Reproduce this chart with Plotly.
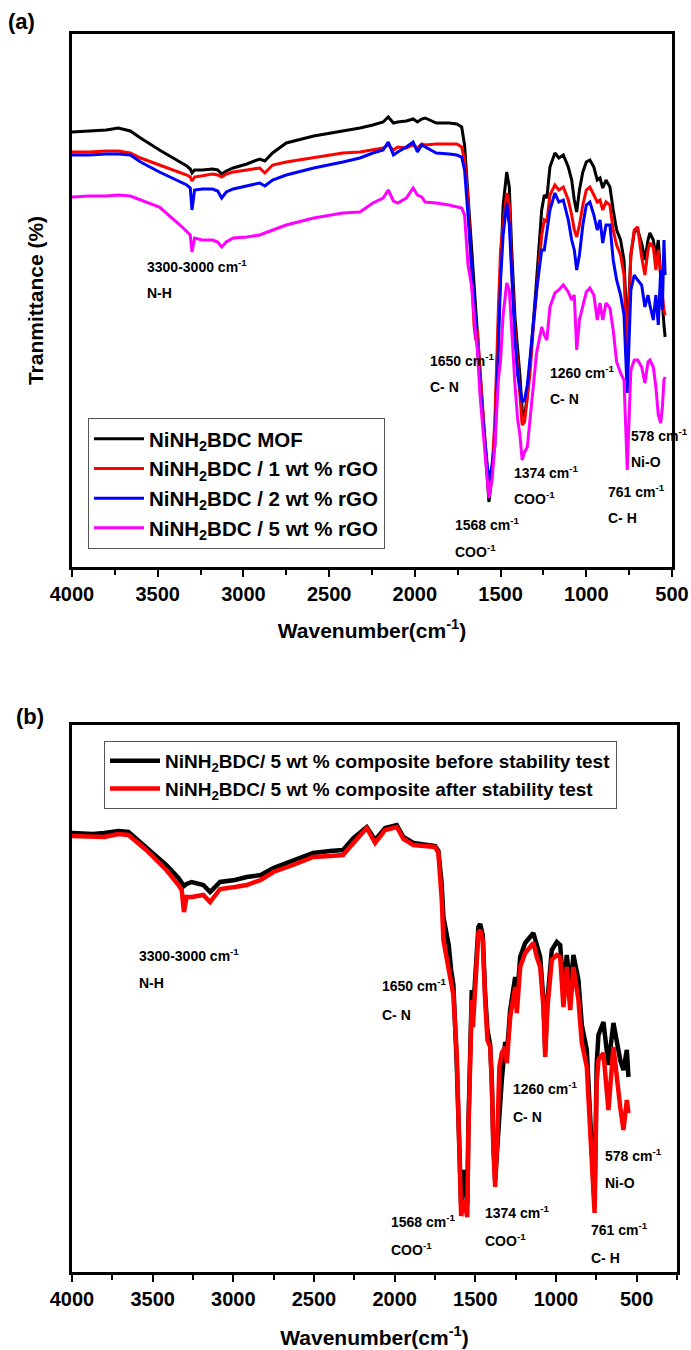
import plotly.graph_objects as go

# ---------------- Panel (a) data ----------------
wn_a = [4000, 3900, 3800, 3730, 3660, 3600, 3490, 3370, 3330, 3310,
        3300, 3285, 3240, 3180, 3150, 3127, 3100, 3060, 2980, 2905,
        2875, 2830, 2750, 2590, 2420, 2320, 2245, 2185, 2155, 2125,
        2100, 2050, 2010, 1985, 1960, 1940, 1875, 1800, 1755, 1727,
        1710, 1690, 1670, 1655, 1645, 1635, 1620, 1600, 1585, 1568,
        1550, 1533, 1513, 1500, 1485, 1464, 1449, 1435, 1416, 1400,
        1387, 1374, 1360, 1344, 1329, 1310, 1290, 1275, 1260, 1245,
        1230, 1212, 1183, 1160, 1134, 1105, 1085, 1070, 1056, 1040,
        1020, 1000, 979, 956, 936, 920, 904, 885, 862, 843,
        823, 800, 780, 761, 740, 720, 700, 677, 658, 640,
        629, 609, 594, 580, 566, 556, 547, 540]

mof = [46.8, 46.9, 47.0, 47.2, 46.9, 46.2, 45.0, 43.8, 43.4, 43.1,
       42.7, 43.0, 43.0, 43.1, 43.0, 42.6, 42.9, 43.2, 43.6, 44.1,
       43.9, 44.7, 45.7, 46.4, 46.9, 47.2, 47.5, 47.8, 48.3, 47.7,
       47.8, 47.9, 48.1, 47.8, 48.1, 48.2, 47.7, 47.7, 47.6, 47.3,
       45.5, 40.5, 35.5, 31.5, 29.0, 26.6, 23.0, 18.2, 14.5, 9.8,
       12.5, 17.0, 27.0, 33.0, 39.5, 42.8, 41.3, 35.0, 28.3, 25.0,
       22.5, 19.0, 18.3, 20.5, 23.3, 27.5, 32.0, 35.5, 39.0, 40.5,
       40.2, 43.3, 44.7, 44.2, 44.5, 43.3, 42.0, 40.0, 38.8, 41.0,
       42.8, 43.8, 44.0, 43.3, 42.0, 42.2, 41.2, 42.0, 41.3, 39.0,
       37.0, 36.0, 34.0, 26.5, 34.5, 36.8, 37.0, 35.7, 34.0, 36.0,
       36.7, 36.0, 34.3, 36.0, 32.0, 30.0, 27.5, 26.3]

rgo1 = [44.8, 44.8, 44.9, 44.9, 44.7, 44.2, 43.5, 42.8, 42.5, 42.3,
        41.9, 42.3, 42.4, 42.6, 42.5, 42.3, 42.6, 42.8, 43.0, 43.2,
        42.7, 43.5, 43.8, 44.2, 44.7, 44.8, 45.0, 45.2, 45.5, 45.0,
        45.3, 45.2, 45.5, 45.2, 45.6, 45.5, 45.6, 45.6, 45.6, 45.3,
        44.0, 40.0, 33.5, 27.5, 26.0, 27.0, 23.0, 18.5, 14.5, 10.5,
        13.0, 18.0, 29.0, 35.0, 37.5, 40.7, 39.5, 33.0, 27.0, 23.0,
        20.0, 17.5, 17.8, 20.0, 22.5, 27.0, 31.0, 33.5, 36.5, 38.0,
        37.8, 40.5, 41.5, 41.0, 41.3, 40.0, 38.5, 37.0, 36.3, 37.5,
        39.5, 41.0, 41.3, 40.5, 39.8, 40.0, 39.0, 39.8, 39.5, 37.0,
        35.5, 34.5, 32.5, 24.5, 34.5, 37.0, 37.3, 34.3, 32.5, 35.0,
        35.7, 35.3, 33.0, 35.0, 32.0, 30.5, 29.0, 28.5]

rgo2 = [44.5, 44.5, 44.6, 44.6, 44.5, 43.8, 42.8, 41.8, 41.5, 41.2,
        39.0, 41.0, 41.1, 41.1, 40.9, 40.2, 40.8, 41.1, 41.4, 41.7,
        41.4, 42.0, 42.5, 43.2, 43.8, 44.2, 44.7, 45.0, 45.8, 44.5,
        44.8, 45.3, 45.8, 44.8, 45.5, 45.3, 44.7, 44.6, 44.5, 44.3,
        43.0, 38.5, 33.5, 29.5, 27.5, 25.5, 21.7, 17.5, 14.5, 11.8,
        13.5, 15.5, 25.0, 32.0, 36.5, 39.7, 37.5, 32.0, 26.0, 22.5,
        21.0, 19.8, 20.0, 21.5, 24.0, 27.5, 31.0, 33.0, 35.0, 35.0,
        37.0, 39.0, 40.7, 39.8, 40.0, 38.0, 36.0, 35.0, 33.0, 34.5,
        37.5, 39.5, 39.8, 38.5, 37.0, 38.0, 35.7, 37.5, 37.5, 34.0,
        32.0, 30.5, 28.5, 20.7, 31.0, 32.5, 32.0, 31.5, 29.3, 30.5,
        29.5, 28.0, 30.5, 27.5, 33.0, 29.0, 36.0, 32.5]

rgo5 = [40.3, 40.4, 40.4, 40.5, 40.4, 40.0, 39.3, 37.5, 36.8, 36.5,
        34.8, 36.2, 36.0, 36.0, 35.8, 35.3, 35.8, 36.2, 36.3, 36.5,
        36.7, 37.0, 37.5, 38.2, 38.7, 38.8, 39.7, 40.2, 41.0, 39.9,
        39.7, 40.2, 41.2, 40.5, 40.3, 39.8, 39.7, 39.5, 39.3, 39.2,
        38.5, 33.5, 31.5, 28.3, 26.5, 25.0, 20.5, 16.5, 13.5, 10.2,
        12.0, 15.5, 22.0, 24.0, 28.5, 31.7, 31.0, 26.7, 21.5, 18.0,
        16.5, 14.0, 14.8, 15.3, 18.0, 21.0, 24.7, 26.0, 27.3, 26.5,
        26.0, 29.3, 30.7, 31.0, 31.5, 30.8, 30.0, 30.5, 25.0, 28.0,
        29.5, 30.8, 31.2, 30.5, 28.0, 29.7, 28.0, 29.7, 29.2, 27.0,
        23.8, 22.7, 22.0, 13.0, 23.0, 24.0, 24.0, 23.3, 21.7, 23.8,
        24.0, 23.3, 21.3, 18.5, 17.7, 19.3, 22.0, 22.3]

names_a = ["NiNH<sub>2</sub>BDC MOF",
           "NiNH<sub>2</sub>BDC / 1 wt % rGO",
           "NiNH<sub>2</sub>BDC / 2 wt % rGO",
           "NiNH<sub>2</sub>BDC / 5 wt % rGO"]
colors_a = ["#000000", "#FF0000", "#0000FF", "#FF00FF"]

# ---------------- Panel (b) data ----------------
wn_b = [4000, 3870, 3800, 3713, 3650, 3540, 3415, 3340, 3320, 3306,
        3290, 3258, 3186, 3144, 3082, 2990, 2917, 2830, 2752, 2630,
        2505, 2400, 2320, 2256, 2173, 2121, 2059, 1987, 1946, 1884,
        1801, 1749, 1729, 1708, 1698, 1681, 1665, 1650, 1636, 1615,
        1599, 1588, 1570, 1550, 1543, 1532, 1522, 1515, 1495, 1481,
        1470, 1454, 1439, 1425, 1408, 1398, 1388, 1377, 1363, 1351,
        1336, 1315, 1305, 1284, 1253, 1243, 1222, 1191, 1160, 1140,
        1119, 1098, 1078, 1067, 1053, 1026, 995, 974, 954, 933,
        912, 892, 861, 840, 809, 788, 761, 748, 737, 706,
        675, 644, 623, 602, 582, 561, 551]

before = [46.7, 46.6, 46.7, 46.9, 46.8, 45.3, 43.5, 42.2, 41.8, 41.4,
          41.6, 41.8, 41.5, 40.8, 41.8, 42.0, 42.3, 42.5, 43.2, 44.0,
          44.7, 44.9, 45.0, 46.2, 47.3, 46.0, 47.2, 47.5, 46.3, 45.7,
          45.5, 45.4, 44.9, 41.5, 38.3, 37.0, 35.5, 33.0, 31.5, 23.5,
          16.7, 9.5, 13.0, 9.5, 17.5, 27.5, 31.0, 28.5, 34.5, 37.3,
          37.6, 36.5, 30.5, 27.0, 25.5, 22.0, 15.5, 12.0, 15.5, 19.0,
          22.0, 25.8, 24.5, 29.0, 32.3, 29.7, 34.3, 35.7, 36.3, 36.7,
          35.5, 34.3, 30.0, 25.0, 30.0, 35.0, 35.8, 35.5, 31.0, 34.5,
          31.0, 34.5, 32.0, 27.5, 25.0, 18.0, 9.5, 23.5, 26.5, 27.8,
          23.5, 27.7, 25.5, 24.0, 23.0, 25.0, 22.3]

after = [46.4, 46.3, 46.3, 46.6, 46.5, 45.0, 43.0, 41.5, 41.0, 38.8,
         40.3, 40.3, 40.5, 39.8, 41.1, 41.3, 41.5, 42.0, 42.8, 43.5,
         44.3, 44.4, 44.5, 45.7, 47.2, 45.7, 47.0, 47.3, 46.1, 45.5,
         45.4, 45.3, 44.7, 40.0, 36.0, 34.5, 33.0, 32.0, 30.5, 24.5,
         16.0, 8.4, 10.0, 8.3, 16.7, 26.7, 30.0, 27.3, 34.0, 36.7,
         37.0, 36.0, 30.0, 26.0, 25.3, 21.7, 15.0, 11.3, 16.7, 23.3,
         24.7, 25.3, 23.7, 28.3, 31.3, 28.7, 33.3, 34.7, 35.3, 35.7,
         34.3, 33.3, 29.3, 24.3, 29.3, 34.0, 34.5, 34.3, 29.3, 33.3,
         29.0, 33.3, 30.0, 25.7, 23.3, 16.7, 8.7, 21.7, 24.0, 24.7,
         19.0, 25.3, 22.0, 19.3, 17.0, 20.0, 18.7]

names_b = ["NiNH<sub>2</sub>BDC/ 5 wt % composite before stability test",
           "NiNH<sub>2</sub>BDC/ 5 wt % composite after stability test"]
colors_b = ["#000000", "#FF0000"]

# peak labels: (wavenumber, transmittance, text)
labels_a = [(3574, 33.4, "3300-3000 cm<sup>-1</sup>"), (3574, 30.7, "N-H"),
            (1924, 24.0, "1650 cm<sup>-1</sup>"), (1924, 21.3, "C- N"),
            (1224, 22.8, "1260 cm<sup>-1</sup>"), (1224, 20.1, "C- N"),
            (751, 16.5, "578 cm<sup>-1</sup>"), (751, 13.8, "Ni-O"),
            (1434, 12.8, "1374 cm<sup>-1</sup>"), (1434, 10.2, "COO<sup>-1</sup>"),
            (885, 10.9, "761 cm<sup>-1</sup>"), (885, 8.2, "C- H"),
            (1778, 7.6, "1568 cm<sup>-1</sup>"), (1778, 4.9, "COO<sup>-1</sup>")]
labels_b = [(3595, 34.5, "3300-3000 cm<sup>-1</sup>"), (3595, 31.7, "N-H"),
            (2090, 31.5, "1650 cm<sup>-1</sup>"), (2090, 28.5, "C- N"),
            (1278, 21.2, "1260 cm<sup>-1</sup>"), (1278, 18.3, "C- N"),
            (706, 14.5, "578 cm<sup>-1</sup>"), (706, 11.7, "Ni-O"),
            (1454, 8.8, "1374 cm<sup>-1</sup>"), (1454, 6.0, "COO<sup>-1</sup>"),
            (795, 7.1, "761 cm<sup>-1</sup>"), (795, 4.2, "C- H"),
            (2038, 7.9, "1568 cm<sup>-1</sup>"), (2038, 5.1, "COO<sup>-1</sup>")]

tickvals = [4000, 3500, 3000, 2500, 2000, 1500, 1000, 500]

FONT = "Arial, Liberation Sans, sans-serif"

fig = go.Figure()
for y, name, c in zip([mof, rgo1, rgo2, rgo5], names_a, colors_a):
    fig.add_trace(go.Scatter(x=wn_a, y=y, mode="lines", name=name,
                             line=dict(color=c, width=3),
                             xaxis="x", yaxis="y", legend="legend"))
for y, name, c in zip([before, after], names_b, colors_b):
    fig.add_trace(go.Scatter(x=wn_b, y=y, mode="lines", name=name,
                             line=dict(color=c, width=4.5),
                             xaxis="x2", yaxis="y2", legend="legend2"))

W, H = 691, 1350


def xax(domain, rng, anchor, standoff):
    return dict(domain=domain, range=rng, anchor=anchor, automargin=False,
                tickvals=tickvals,
                ticks="outside", ticklen=7, tickwidth=2, tickcolor="black",
                tickfont=dict(family=FONT, size=20, color="black", weight="bold"),
                showline=True, linewidth=2.5, linecolor="black", mirror=True,
                showgrid=False, zeroline=False,
                minor=dict(ticks="outside", ticklen=5, tickwidth=2,
                           tickcolor="black", dtick=250, tick0=0, showgrid=False),
                title=dict(text="Wavenumber(cm<sup>-1</sup>)", standoff=standoff,
                           font=dict(family=FONT, size=21, color="black",
                                     weight="bold")))


def yax(domain, rng, anchor, title=None):
    d = dict(domain=domain, range=rng, anchor=anchor, automargin=False,
             showticklabels=False, ticks="",
             showline=True, linewidth=2.5, linecolor="black", mirror=True,
             showgrid=False, zeroline=False)
    if title:
        d["title"] = dict(text=title, standoff=20,
                          font=dict(family=FONT, size=21, color="black",
                                    weight="bold"))
    return d


annotations = []
for (xv, yv, t) in labels_a:
    annotations.append(dict(x=xv, y=yv, xref="x", yref="y", text=t,
                            showarrow=False, xanchor="left", yanchor="middle",
                            font=dict(family=FONT, size=14, color="black",
                                      weight="bold")))
for (xv, yv, t) in labels_b:
    annotations.append(dict(x=xv, y=yv, xref="x2", yref="y2", text=t,
                            showarrow=False, xanchor="left", yanchor="middle",
                            font=dict(family=FONT, size=14, color="black",
                                      weight="bold")))
annotations.append(dict(x=22 / W, y=1 - 22 / H, xref="paper", yref="paper",
                        text="(a)", showarrow=False, xanchor="center",
                        yanchor="middle",
                        font=dict(family=FONT, size=22, color="black",
                                  weight="bold")))
annotations.append(dict(x=30 / W, y=1 - 716 / H, xref="paper", yref="paper",
                        text="(b)", showarrow=False, xanchor="center",
                        yanchor="middle",
                        font=dict(family=FONT, size=22, color="black",
                                  weight="bold")))

fig.update_layout(
    width=W, height=H,
    margin=dict(l=0, r=0, t=0, b=0),
    paper_bgcolor="white", plot_bgcolor="white",
    font=dict(family=FONT, color="black"),
    xaxis=xax([72 / W, 672 / W], [4000, 500], "y", 20),
    yaxis=yax([1 - 567 / H, 1 - 34 / H], [3.3, 56.6], "x", "Tranmittance (%)"),
    xaxis2=xax([72 / W, 677 / W], [4000, 250], "y2", 22),
    yaxis2=yax([1 - 1272 / H, 1 - 725 / H], [2.8, 57.5], "x2"),
    legend=dict(x=88 / W, y=1 - 418 / H, xanchor="left", yanchor="top",
                bgcolor="white", bordercolor="#555555", borderwidth=1,
                font=dict(family=FONT, size=20.5, color="black", weight="bold"),
                itemwidth=50, tracegroupgap=0),
    legend2=dict(x=104 / W, y=1 - 741 / H, xanchor="left", yanchor="top",
                 bgcolor="white", bordercolor="#555555", borderwidth=1,
                 font=dict(family=FONT, size=19, color="black", weight="bold"),
                 itemwidth=50, tracegroupgap=0),
    annotations=annotations,
)

fig.write_html("out.html", config={"displayModeBar": False},
               post_script="document.body.style.margin='0';")
